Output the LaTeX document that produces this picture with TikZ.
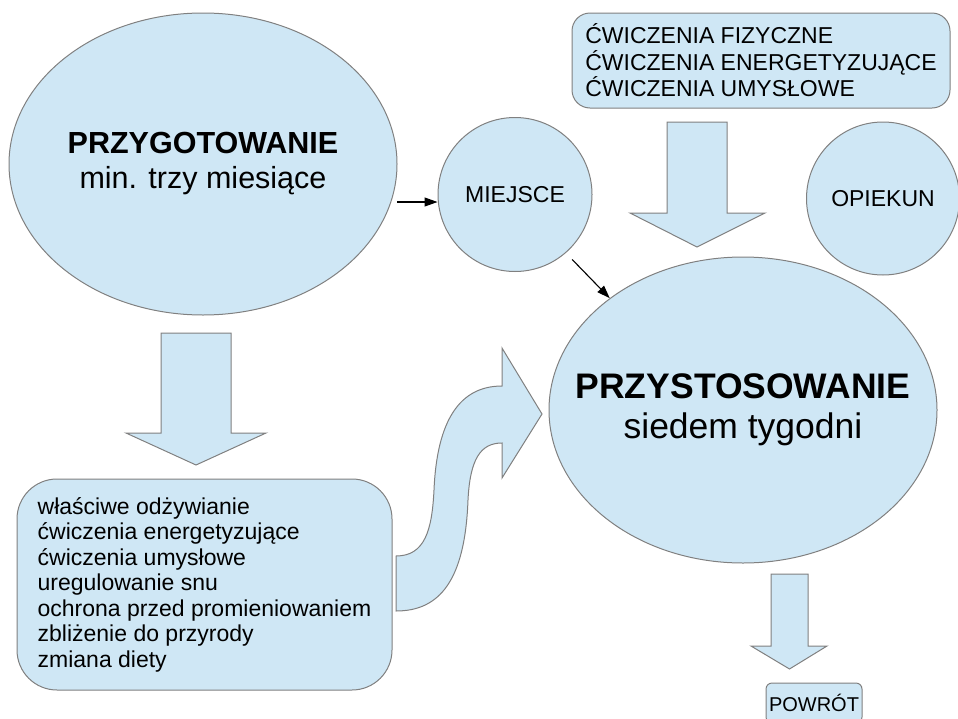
\documentclass[tikz,border=0pt]{standalone}
\usepackage{fontspec}
\setmainfont{Liberation Sans}
\usetikzlibrary{shapes.geometric,arrows.meta}
\definecolor{fillb}{HTML}{CFE7F5}
\definecolor{edgec}{HTML}{808080}
\begin{document}
\begin{tikzpicture}[x=1pt,y=-1pt,
  shp/.style={draw=edgec,fill=fillb,line width=1pt},
  blockarrow/.style={draw=edgec,fill=fillb,line width=1pt,line join=miter},
  conn/.style={draw=black,line width=1.1pt,-{Triangle[length=13pt,width=9pt]}},
  midtxt/.style={font=\fontsize{23}{26.5}\selectfont},
  bigtxt/.style={font=\fontsize{30.5}{35}\selectfont},
  hugetxt/.style={font=\fontsize{35.5}{40}\selectfont}]
\useasboundingbox (0,0) rectangle (958,718);

% block arrows
\draw[blockarrow] (161,333) -- (231,333) -- (231,433) -- (266,433) -- (196,465) -- (126,433) -- (161,433) -- cycle;
\draw[blockarrow] (667,122) -- (727,122) -- (727,213) -- (765,213) -- (697,247) -- (630,213) -- (667,213) -- cycle;
\draw[blockarrow] (771,574) -- (808,574) -- (808,646) -- (827,646) -- (789.5,669) -- (751,646) -- (771,646) -- cycle;
\draw[blockarrow] (396,556) .. controls (425,556) and (432,530) .. (434,490)
  .. controls (437,420) and (460,386) .. (502,386) -- (502,348) -- (542,414) -- (502,478) -- (502,443)
  .. controls (480,443) and (470,460) .. (468,500)
  .. controls (465,580) and (440,611) .. (396,611) -- cycle;

% nodes
\node[shp, ellipse, minimum width=388pt, minimum height=302pt, inner sep=0pt,
  label={[bigtxt, align=center, inner sep=0pt]center:{\textbf{PRZYGOTOWANIE}\\min. trzy miesiące}}] (przyg) at (203,164) {};
\node[shp, circle, minimum size=154pt, inner sep=0pt, midtxt] (miejsce) at (515,194.5) {MIEJSCE};
\node[shp, circle, minimum size=153pt, inner sep=0pt, midtxt] (opiekun) at (883,198.5) {OPIEKUN};
\node[shp, ellipse, minimum width=388pt, minimum height=306pt, inner sep=0pt,
  label={[hugetxt, align=center, inner sep=0pt]center:{\textbf{PRZYSTOSOWANIE}\\siedem tygodni}}] (przyst) at (743,410) {};
\node[shp, rounded corners=18pt, minimum width=378pt, minimum height=95pt, inner sep=0pt, align=left, midtxt] (cwicz) at (761,60.5) {ĆWICZENIA FIZYCZNE\\ĆWICZENIA ENERGETYZUJĄCE\\ĆWICZENIA UMYSŁOWE};
\node[shp, rounded corners=40pt, minimum width=375pt, minimum height=211pt, inner sep=0pt, align=left, font=\fontsize{23}{25.5}\selectfont] (lista) at (204.5,584.5) {właściwe odżywianie\\ćwiczenia energetyzujące\\ćwiczenia umysłowe\\uregulowanie snu\\ochrona przed promieniowaniem\\zbliżenie do przyrody\\zmiana diety};
\node[shp, rounded corners=6pt, minimum width=96pt, minimum height=40pt, inner sep=0pt, font=\fontsize{20}{24}\selectfont] (powrot) at (814,703) {POWRÓT};

% connectors
\coordinate (a1) at (397,202);
\draw[conn] (a1) -- (a1 -| miejsce.west);
\draw[conn, shorten <=9pt] (miejsce.-49) -- (przyst.140);
\end{tikzpicture}
\end{document}
